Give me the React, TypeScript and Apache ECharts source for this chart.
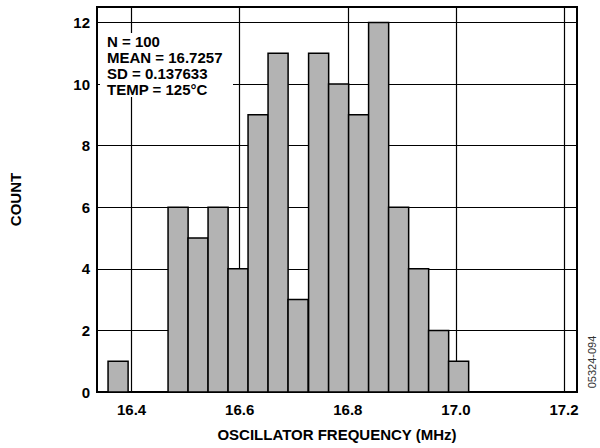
import React, { useEffect, useRef } from 'react';
import * as echarts from 'echarts';

// Histogram: bin centers (MHz) and counts
const binCenters = [16.375, 16.486, 16.523, 16.56, 16.597, 16.634, 16.671, 16.708, 16.746, 16.783, 16.82, 16.857, 16.894, 16.931, 16.968, 17.005];
const counts = [1, 6, 5, 6, 4, 9, 11, 3, 11, 10, 9, 12, 6, 4, 2, 1];
const binWidth = 0.0371;
const xTicks = [16.4, 16.6, 16.8, 17.0, 17.2];
const yTicks = [0, 2, 4, 6, 8, 10, 12];
const statLines = ['N = 100', 'MEAN = 16.7257', 'SD = 0.137633', 'TEMP = 125\u00B0C'];
const figureCode = '05324-094';

const FONT = '"Liberation Sans", Arial, Helvetica, sans-serif';

export default function App() {
  const ref = useRef<HTMLDivElement>(null);
  useEffect(() => {
    if (!ref.current) return;
    const chart = echarts.init(ref.current, undefined, { renderer: 'svg' });
    const data = binCenters.map((c, i) => [c, counts[i]]);
    chart.setOption({
      animation: false,
      backgroundColor: '#ffffff',
      textStyle: { fontFamily: FONT },
      grid: {
        left: 97,
        right: 23,
        top: 7,
        bottom: 56,
        show: true,
        borderColor: '#000',
        borderWidth: 2,
        containLabel: false,
      },
      xAxis: {
        type: 'value',
        min: 16.336,
        max: 17.224,
        name: 'OSCILLATOR FREQUENCY (MHz)',
        nameLocation: 'middle',
        nameGap: 35,
        nameTextStyle: { fontFamily: FONT, fontWeight: 'bold', fontSize: 15, color: '#000' },
        axisLine: { show: true, lineStyle: { color: '#000', width: 2 } },
        axisTick: { show: false, customValues: xTicks },
        axisLabel: {
          customValues: xTicks,
          formatter: (v: number) => v.toFixed(1),
          fontFamily: FONT,
          fontWeight: 'bold',
          fontSize: 15,
          color: '#000',
          margin: 10,
        },
        splitLine: { show: true, lineStyle: { color: '#000', width: 1.2 } },
      },
      yAxis: {
        type: 'value',
        min: 0,
        max: 12.5,
        name: 'COUNT',
        nameLocation: 'middle',
        nameRotate: 90,
        nameGap: 74,
        nameTextStyle: { fontFamily: FONT, fontWeight: 'bold', fontSize: 15, color: '#000' },
        axisLine: { show: true, lineStyle: { color: '#000', width: 2 } },
        axisTick: { show: false, customValues: yTicks },
        axisLabel: {
          customValues: yTicks,
          fontFamily: FONT,
          fontWeight: 'bold',
          fontSize: 15,
          color: '#000',
          margin: 7,
        },
        splitLine: { show: true, lineStyle: { color: '#000', width: 1.2 } },
      },
      series: [
        {
          type: 'custom',
          data,
          renderItem: (params: any, api: any) => {
            const c = api.value(0);
            const n = api.value(1);
            const p0 = api.coord([c - binWidth / 2, n]);
            const p1 = api.coord([c + binWidth / 2, 0]);
            return {
              type: 'rect',
              shape: { x: p0[0], y: p0[1], width: p1[0] - p0[0], height: p1[1] - p0[1] },
              style: { fill: '#b3b3b3', stroke: '#000', lineWidth: 1.5 },
            };
          },
        },
      ],
      graphic: [
        {
          type: 'rect',
          left: 100,
          top: 33,
          shape: { x: 0, y: 0, width: 133, height: 64 },
          style: { fill: '#fff' },
          z: 10,
        },
        {
          type: 'text',
          x: 107,
          y: 33,
          z: 11,
          style: {
            text: statLines.join('\n'),
            fontFamily: FONT,
            fontWeight: 'bold',
            fontSize: 15,
            lineHeight: 16,
            fill: '#000',
            align: 'left',
            verticalAlign: 'top',
          },
        },
        {
          type: 'text',
          x: 592,
          y: 362,
          rotation: Math.PI / 2,
          z: 11,
          style: {
            text: figureCode,
            fontFamily: FONT,
            fontSize: 11,
            fill: '#333',
            align: 'center',
            verticalAlign: 'middle',
          },
        },
      ],
    });
    return () => chart.dispose();
  }, []);
  return <div ref={ref} style={{ position: 'fixed', left: 0, top: 0, width: 600, height: 448 }} />;
}
